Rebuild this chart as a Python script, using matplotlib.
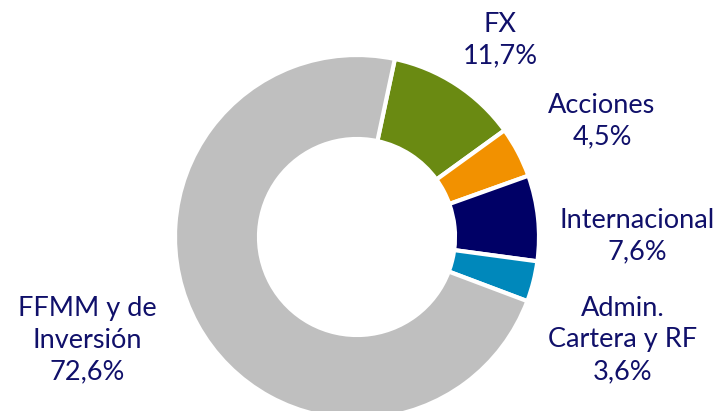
import matplotlib.pyplot as plt

labels = ["FX", "Acciones", "Internacional", "Admin.\nCartera y RF", "FFMM y de\nInversión"]
shares = [11.7, 4.5, 7.6, 3.6, 72.6]
colors = ["#6A8A12", "#F29100", "#000066", "#0088BB", "#BFBFBF"]

# label anchor points in pixel coords (x, y from top)
label_pos = [(500, 40), (602, 121), (637, 236), (623, 340), (87, 340)]

W, H = 719, 411
fig = plt.figure(figsize=(W / 100, H / 100), dpi=100)
ax = fig.add_axes([0, 0, 1, 1])

ax.pie(
    shares,
    colors=colors,
    startangle=78,
    counterclock=False,
    center=(357, H - 237),
    radius=182,
    explode=[0.012, 0.012, 0.012, 0.012, 0],
    wedgeprops=dict(width=84, edgecolor="white", linewidth=3),
    frame=True,
)
ax.set_xlim(0, W)
ax.set_ylim(0, H)
ax.set_aspect("equal")
ax.axis("off")

for lab, val, (x, y) in zip(labels, shares, label_pos):
    txt = lab + "\n" + f"{val:.1f}".replace(".", ",") + "%"
    ax.text(x, H - y, txt, ha="center", va="center", fontsize=19.5,
            family="Lato", color="#10106A", linespacing=1.32)

fig.savefig("out.png", dpi=100)
